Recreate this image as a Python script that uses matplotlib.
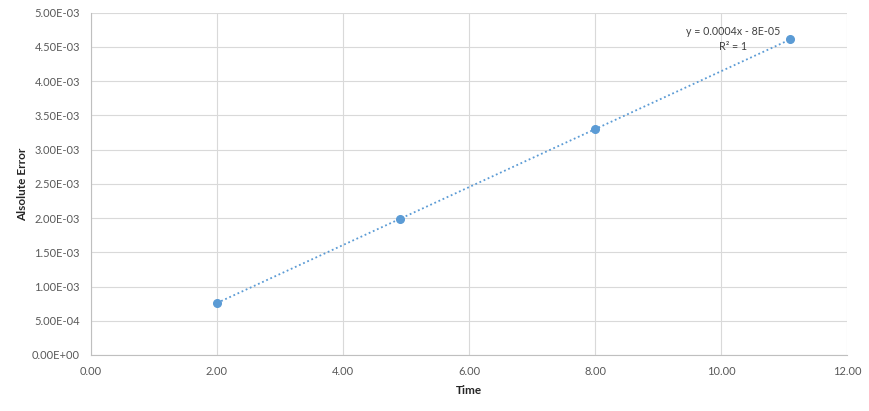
import numpy as np
import matplotlib.pyplot as plt
from matplotlib.ticker import FormatStrFormatter, FuncFormatter

time = [2.00, 4.91, 8.00, 11.10]
abs_error = [7.6e-4, 1.99e-3, 3.30e-3, 4.61e-3]
eq_text = "y = 0.0004x - 8E-05\nR² = 1"

plt.rcParams['font.family'] = ['Lato', 'DejaVu Sans']

fig = plt.figure(figsize=(8.7, 4.11), dpi=100)
ax = fig.add_axes([0.1046, 0.1363, 0.8690, 0.8327])

blue = '#5b9bd5'
ax.plot(time, abs_error, 'o', color=blue, markersize=5.5, zorder=3)

# linear trendline
k, b = np.polyfit(time, abs_error, 1)
xs = np.array([min(time), max(time)])
ax.plot(xs, k * xs + b, linestyle=(0, (1, 1.5)), color=blue, linewidth=1.3, zorder=2)

ax.text(10.19, 4.61e-3, eq_text, ha='center', va='center', multialignment='center',
        fontsize=7.7, color='#404040', linespacing=1.45)

ax.set_xlim(0, 12)
ax.set_ylim(0, 5e-3)
ax.set_xticks(np.arange(0, 12.1, 2))
ax.set_yticks(np.arange(0, 5.01e-3, 5e-4))
ax.xaxis.set_major_formatter(FormatStrFormatter('%.2f'))
ax.yaxis.set_major_formatter(FuncFormatter(lambda v, p: f"{v:.2E}"))

ax.grid(True, color='#d9d9d9', linewidth=0.8)
ax.set_axisbelow(True)
for s in ['top', 'right']:
    ax.spines[s].set_visible(False)
for s in ['left', 'bottom']:
    ax.spines[s].set_color('#bfbfbf')
    ax.spines[s].set_linewidth(0.8)
ax.tick_params(length=0, labelsize=8, colors='#595959', pad=8)

ax.set_xlabel('Time', fontsize=8.5, fontweight='bold', color='#262626', labelpad=6)
ax.set_ylabel('Alsolute Error', fontsize=8.5, fontweight='bold', color='#262626', labelpad=3)

fig.savefig('out.png', dpi=100)
